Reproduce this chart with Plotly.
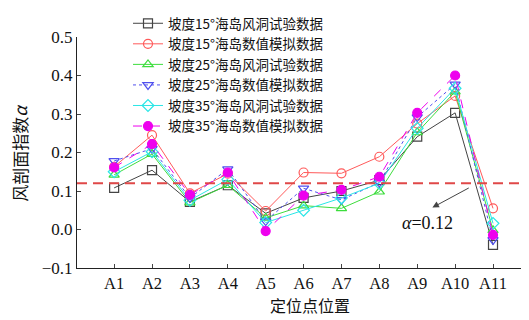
import plotly.graph_objects as go

categories = ["A1", "A2", "A3", "A4", "A5", "A6", "A7", "A8", "A9", "A10", "A11"]
s15_wind = [0.108, 0.154, 0.072, 0.115, 0.042, 0.082, 0.100, 0.128, 0.241, 0.303, -0.040]
s15_num = [0.163, 0.245, 0.094, 0.145, 0.048, 0.148, 0.146, 0.189, 0.275, 0.347, 0.055]
s25_wind = [0.142, 0.196, 0.070, 0.115, 0.030, 0.062, 0.055, 0.098, 0.252, 0.358, -0.002]
s25_num = [0.178, 0.210, 0.082, 0.157, 0.022, 0.107, 0.077, 0.122, 0.292, 0.377, -0.027]
s35_wind = [0.150, 0.202, 0.076, 0.130, 0.018, 0.050, 0.082, 0.120, 0.263, 0.367, 0.016]
s35_num = [0.161, 0.222, 0.090, 0.148, -0.004, 0.088, 0.103, 0.137, 0.303, 0.400, -0.014]
names = ["坡度15°海岛风洞试验数据", "坡度15°海岛数值模拟数据", "坡度25°海岛风洞试验数据",
         "坡度25°海岛数值模拟数据", "坡度35°海岛风洞试验数据", "坡度35°海岛数值模拟数据"]
ref_value = 0.12
y_ticks = [-0.1, 0.0, 0.1, 0.2, 0.3, 0.4, 0.5]

series = [s15_wind, s15_num, s25_wind, s25_num, s35_wind, s35_num]
colors = ["#444444", "#ff5a5a", "#3ddd3d", "#5050ee", "#2ae6e6", "#ee00ee"]
symbols = ["square-open", "circle-open", "triangle-up-open", "triangle-down-open", "diamond-open", "circle"]
dashes = ["solid", "solid", "solid", "dot", "solid", "dash"]

xs = list(range(1, len(categories) + 1))
fig = go.Figure()
for vals, name, c, sym, d in zip(series, names, colors, symbols, dashes):
    fig.add_trace(go.Scatter(
        x=xs, y=vals, name=name, mode="lines+markers",
        line=dict(color=c, width=1, dash=d),
        marker=dict(symbol=sym, size=9, color=c, line=dict(color=c, width=1.2)),
    ))

fig.add_shape(type="line", xref="paper", x0=0, x1=1, y0=ref_value, y1=ref_value,
              line=dict(color="#e04848", width=2, dash="10px,6px"))
fig.add_annotation(x=9.4, y=0.057, xref="x", yref="y", ax=10.4, ay=0.11, axref="x", ayref="y",
                   text="", showarrow=True, arrowhead=2, arrowsize=1.3, arrowwidth=1, arrowcolor="#444")
fig.add_annotation(x=9.28, y=0.017, xref="x", yref="y", text="<i>α</i>=0.12", showarrow=False,
                   font=dict(family="Liberation Serif", size=18, color="#111"))
fig.add_annotation(x=-0.128, y=0.5, xref="paper", yref="paper", text="风剖面指数<i>α</i>",
                   textangle=-90, showarrow=False, xanchor="center", yanchor="middle",
                   font=dict(family="Noto Sans CJK SC", size=17, color="#111"))
fig.add_annotation(x=0.515, y=-0.162, xref="paper", yref="paper", text="定位点位置",
                   showarrow=False, xanchor="center", yanchor="middle",
                   font=dict(family="Noto Sans CJK SC", size=16, color="#111"))

fig.update_layout(
    width=521, height=312,
    margin=dict(l=69, r=0, t=29, b=52, autoexpand=False),
    plot_bgcolor="white", paper_bgcolor="white",
    font=dict(family="Liberation Serif", size=15, color="#111"),
    showlegend=True,
    legend=dict(x=(120 - 69) / 452, y=1 + 29 / 231, xref="paper", yref="paper",
                xanchor="left", yanchor="top", bgcolor="rgba(0,0,0,0)",
                font=dict(family="Noto Sans CJK SC", size=13.5, color="#111"),
                tracegroupgap=0, itemwidth=30),
    xaxis=dict(range=[0.02, 11.95], tickvals=xs, ticktext=categories, ticks="inside", ticklen=4,
               showline=True, linecolor="#222", linewidth=1, showgrid=False, zeroline=False,
               automargin=False, tickfont=dict(family="Liberation Serif", size=16.5)),
    yaxis=dict(range=[-0.1, 0.5], tickvals=y_ticks, tickformat=".1f", ticks="inside", ticklen=4,
               showline=True, linecolor="#222", linewidth=1, showgrid=False, zeroline=False,
               automargin=False, tickfont=dict(family="Liberation Serif", size=17)),
)
fig.write_html("out.html")
